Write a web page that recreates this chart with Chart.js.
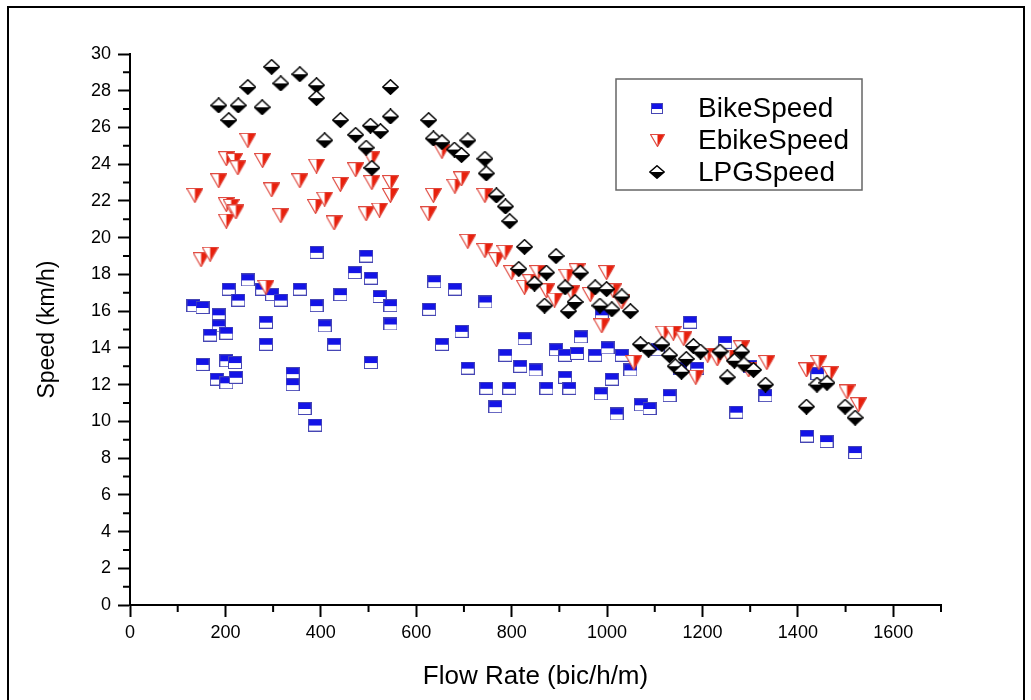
<!DOCTYPE html>
<html>
<head>
<meta charset="utf-8">
<script src="https://cdn.jsdelivr.net/npm/chart.js@4/dist/chart.umd.min.js"></script>
<style>
  body { margin: 0; background: #fff; }
  #wrap { width: 1031px; height: 700px; }
</style>
</head>
<body>
<div id="wrap"><canvas id="speedChart" width="1031" height="700"></canvas></div>
<script>
// values
const bikeFlow = [133, 152, 186, 186, 168, 202, 152, 202, 220, 182, 202, 222, 207, 227, 247, 285, 285, 277, 298, 316,
  341, 341, 356, 366, 388, 391, 391, 408, 428, 441, 471, 495, 505, 505, 523, 546, 546,
  627, 638, 654, 681, 695, 708, 745, 747, 766, 787, 795, 818, 827, 850, 873, 893, 912, 912, 921, 937, 945,
  975, 987, 989, 1001, 1010, 1020, 1031, 1049, 1071, 1089, 1106, 1131, 1153, 1174, 1189, 1248, 1271, 1300,
  1332, 1419, 1441, 1460, 1520];
const bikeSpeed = [16.3, 16.2, 15.8, 15.2, 14.7, 14.8, 13.1, 13.3, 13.2, 12.3, 12.1, 12.4, 17.2, 16.6, 17.7, 15.4, 14.2, 17.2, 16.9, 16.6,
  12.6, 12.0, 17.2, 10.7, 9.8, 19.2, 16.3, 15.2, 14.2, 16.9, 18.1, 19.0, 17.8, 13.2, 16.8, 16.3, 15.3,
  16.1, 17.6, 14.2, 17.2, 14.9, 12.9, 16.5, 11.8, 10.8, 13.6, 11.8, 13.0, 14.5, 12.8, 11.8, 13.9, 13.6, 12.4, 11.8, 13.7, 14.6,
  13.6, 11.5, 15.8, 14.0, 12.3, 10.4, 13.6, 12.8, 10.9, 10.7, 13.9, 11.4, 12.9, 15.4, 12.9, 14.3, 10.5, 13.0,
  11.4, 9.2, 12.6, 8.9, 8.3];

const ebikeFlow = [136, 149, 168, 186, 202, 202, 212, 222, 202, 219, 226, 247, 278, 285, 297, 316, 356, 389, 391, 408,
  428, 441, 473, 495, 507, 507, 523, 546, 546, 626, 636, 654, 681, 695, 708, 744, 744, 768, 786, 800,
  827, 840, 855, 873, 890, 916, 926, 937, 965, 999, 1013, 1031, 989, 1056, 1119, 1139, 1161, 1186, 1211, 1231,
  1257, 1282, 1297, 1335, 1418, 1444, 1468, 1503, 1527];
const ebikeSpeed = [22.3, 18.8, 19.1, 23.1, 21.8, 20.9, 21.7, 21.4, 24.3, 24.2, 23.8, 25.3, 24.2, 17.3, 22.6, 21.2, 23.1, 21.7, 23.9, 22.1,
  20.8, 22.9, 23.7, 21.3, 24.3, 23.0, 21.5, 23.0, 22.3, 21.3, 22.3, 24.7, 22.8, 23.2, 19.8, 22.3, 19.3, 18.8, 19.2, 18.1,
  17.3, 17.6, 18.1, 17.1, 16.6, 17.9, 17.0, 18.2, 16.9, 18.1, 17.1, 16.5, 15.2, 13.2, 14.8, 14.8, 14.5, 12.4, 13.6, 13.4,
  13.5, 14.0, 12.8, 13.2, 12.8, 13.2, 12.6, 11.6, 10.9];

const lpgFlow = [186, 207, 227, 247, 277, 297, 316, 356, 391, 391, 408, 441, 473, 495, 504, 507, 525, 546, 546,
  626, 636, 654, 680, 695, 708, 744, 747, 768, 787, 796, 815, 827, 848, 869, 873, 893, 912, 919, 933, 944,
  975, 985, 999, 1010, 1031, 1049, 1070, 1087, 1115, 1131, 1143, 1156, 1166, 1181, 1196, 1237, 1252, 1267, 1282, 1287,
  1307, 1332, 1418, 1440, 1461, 1499, 1520];
const lpgSpeed = [27.2, 26.4, 27.2, 28.2, 27.1, 29.3, 28.4, 28.9, 28.3, 27.6, 25.3, 26.4, 25.6, 24.9, 26.1, 23.8, 25.8, 28.2, 26.6,
  26.4, 25.4, 25.2, 24.8, 24.5, 25.3, 24.3, 23.5, 22.3, 21.7, 20.9, 18.3, 19.5, 17.5, 16.3, 18.1, 19.0, 17.3, 16.0, 16.5, 18.1,
  17.3, 16.3, 17.2, 16.1, 16.8, 16.0, 14.2, 13.9, 14.2, 13.6, 13.0, 12.7, 13.4, 14.1, 13.8, 13.8, 12.4, 13.3, 13.8, 13.1,
  12.8, 12.0, 10.8, 12.0, 12.1, 10.8, 10.2];

const seriesNames = ['BikeSpeed', 'EbikeSpeed', 'LPGSpeed'];
const xTitle = 'Flow Rate (bic/h/m)';
const yTitle = 'Speed (km/h)';

const FONT = "'Liberation Sans', Arial, sans-serif";

function toPoints(xs, ys) {
  return xs.map((x, i) => ({ x, y: ys[i] }));
}

function makeSquare(w, h) {
  const c = document.createElement('canvas');
  c.width = w; c.height = h;
  const g = c.getContext('2d');
  g.fillStyle = '#fff';
  g.fillRect(0, 0, w, h);
  g.fillStyle = '#1414e6';
  g.fillRect(0, 0, w, Math.round(h * 0.55));
  g.strokeStyle = '#4646b4';
  g.lineWidth = 1;
  g.strokeRect(0.5, 0.5, w - 1, h - 1);
  return c;
}

function makeTriangle(w, h) {
  const c = document.createElement('canvas');
  c.width = w; c.height = h;
  const g = c.getContext('2d');
  g.beginPath();
  g.moveTo(0.5, 0.5); g.lineTo(w - 0.5, 0.5); g.lineTo(w / 2, h - 0.5); g.closePath();
  g.fillStyle = '#fff';
  g.fill();
  g.beginPath();
  g.moveTo(w / 2, 0.5); g.lineTo(w - 0.5, 0.5); g.lineTo(w / 2, h - 0.5); g.closePath();
  g.fillStyle = '#e8200c';
  g.fill();
  g.beginPath();
  g.moveTo(0.5, 0.5); g.lineTo(w - 0.5, 0.5); g.lineTo(w / 2, h - 0.5); g.closePath();
  g.strokeStyle = '#e04a40';
  g.lineWidth = 1.2;
  g.stroke();
  return c;
}

function makeDiamond(w, h) {
  const c = document.createElement('canvas');
  c.width = w; c.height = h;
  const g = c.getContext('2d');
  g.beginPath();
  g.moveTo(w / 2, 0.8); g.lineTo(w - 0.8, h / 2); g.lineTo(w / 2, h - 0.8); g.lineTo(0.8, h / 2); g.closePath();
  g.fillStyle = '#fff';
  g.fill();
  g.beginPath();
  g.moveTo(0.8, h / 2); g.lineTo(w - 0.8, h / 2); g.lineTo(w / 2, h - 0.8); g.closePath();
  g.fillStyle = '#000';
  g.fill();
  g.beginPath();
  g.moveTo(w / 2, 0.8); g.lineTo(w - 0.8, h / 2); g.lineTo(w / 2, h - 0.8); g.lineTo(0.8, h / 2); g.closePath();
  g.strokeStyle = '#000';
  g.lineWidth = 1.5;
  g.stroke();
  return c;
}

const markers = [makeSquare(14, 13), makeTriangle(17, 15), makeDiamond(17, 16)];
const legendMarkers = [makeSquare(12, 11), makeTriangle(15, 13), makeDiamond(16, 14)];

// white page + outer frame
const framePlugin = {
  id: 'frame',
  beforeDraw(chart) {
    const ctx = chart.ctx;
    ctx.save();
    ctx.fillStyle = '#fff';
    ctx.fillRect(0, 0, chart.width, chart.height);
    ctx.strokeStyle = '#000';
    ctx.lineWidth = 2;
    ctx.strokeRect(8, 7, 1016, 700);
    ctx.restore();
  },
};

// short ticks between the labelled ones
const minorTickPlugin = {
  id: 'minorTicks',
  afterDraw(chart) {
    const { ctx, scales: { x, y } } = chart;
    ctx.save();
    ctx.strokeStyle = '#000';
    ctx.lineWidth = 2;
    ctx.beginPath();
    for (let v = 100; v <= x.max; v += 200) {
      const px = x.getPixelForValue(v);
      ctx.moveTo(px, x.top);
      ctx.lineTo(px, x.top + 7);
    }
    for (let v = 1; v < y.max; v += 2) {
      const py = y.getPixelForValue(v);
      ctx.moveTo(y.right, py);
      ctx.lineTo(y.right - 7, py);
    }
    ctx.stroke();
    ctx.restore();
  },
};

const legendBoxPlugin = {
  id: 'legendBox',
  afterDraw(chart) {
    const ctx = chart.ctx;
    ctx.save();
    ctx.fillStyle = '#fff';
    ctx.fillRect(615, 78, 247, 112);
    ctx.strokeStyle = '#666';
    ctx.lineWidth = 1.5;
    ctx.strokeRect(616, 79, 246, 111);
    ctx.font = '28px ' + FONT;
    ctx.fillStyle = '#000';
    ctx.textBaseline = 'middle';
    seriesNames.forEach((name, i) => {
      const rowY = 108 + i * 32;
      const m = legendMarkers[i];
      ctx.drawImage(m, Math.round(657 - m.width / 2), Math.round(rowY - m.height / 2));
      ctx.fillText(name, 698, rowY + 1);
    });
    ctx.restore();
  },
};

const tickFont = { family: FONT, size: 18 };

new Chart(document.getElementById('speedChart'), {
  type: 'scatter',
  data: {
    datasets: [
      { label: seriesNames[0], data: toPoints(bikeFlow, bikeSpeed), pointStyle: markers[0], pointRadius: 7, order: 3 },
      { label: seriesNames[1], data: toPoints(ebikeFlow, ebikeSpeed), pointStyle: markers[1], pointRadius: 8, order: 2 },
      { label: seriesNames[2], data: toPoints(lpgFlow, lpgSpeed), pointStyle: markers[2], pointRadius: 8, order: 1 },
    ],
  },
  options: {
    responsive: false,
    animation: false,
    devicePixelRatio: 1,
    layout: { padding: { left: 8, top: 54, right: 90, bottom: 8 } },
    plugins: {
      legend: { display: false },
      tooltip: { enabled: false },
    },
    scales: {
      x: {
        type: 'linear',
        min: 0,
        max: 1700,
        ticks: {
          stepSize: 200, includeBounds: false, color: '#000', font: tickFont, padding: 5, maxRotation: 0,
          callback: (v) => String(v),
        },
        grid: { drawOnChartArea: false, tickLength: 12, tickWidth: 2, tickColor: '#000' },
        border: { color: '#000', width: 2 },
        title: { display: true, text: xTitle, color: '#000', font: { family: FONT, size: 26 }, padding: { top: 0, bottom: 0 } },
        afterFit(scale) { scale.height = 87; },
      },
      y: {
        type: 'linear',
        min: 0,
        max: 30,
        ticks: { stepSize: 2, color: '#000', font: tickFont, padding: 7, callback: (v) => String(v) },
        grid: { drawOnChartArea: false, tickLength: 12, tickWidth: 2, tickColor: '#000' },
        border: { color: '#000', width: 2 },
        title: { display: true, text: yTitle, color: '#000', font: { family: FONT, size: 23 }, padding: { top: 26, bottom: 0 } },
        afterFit(scale) { scale.width = 122; },
      },
    },
  },
  plugins: [framePlugin, minorTickPlugin, legendBoxPlugin],
});
</script>
</body>
</html>
